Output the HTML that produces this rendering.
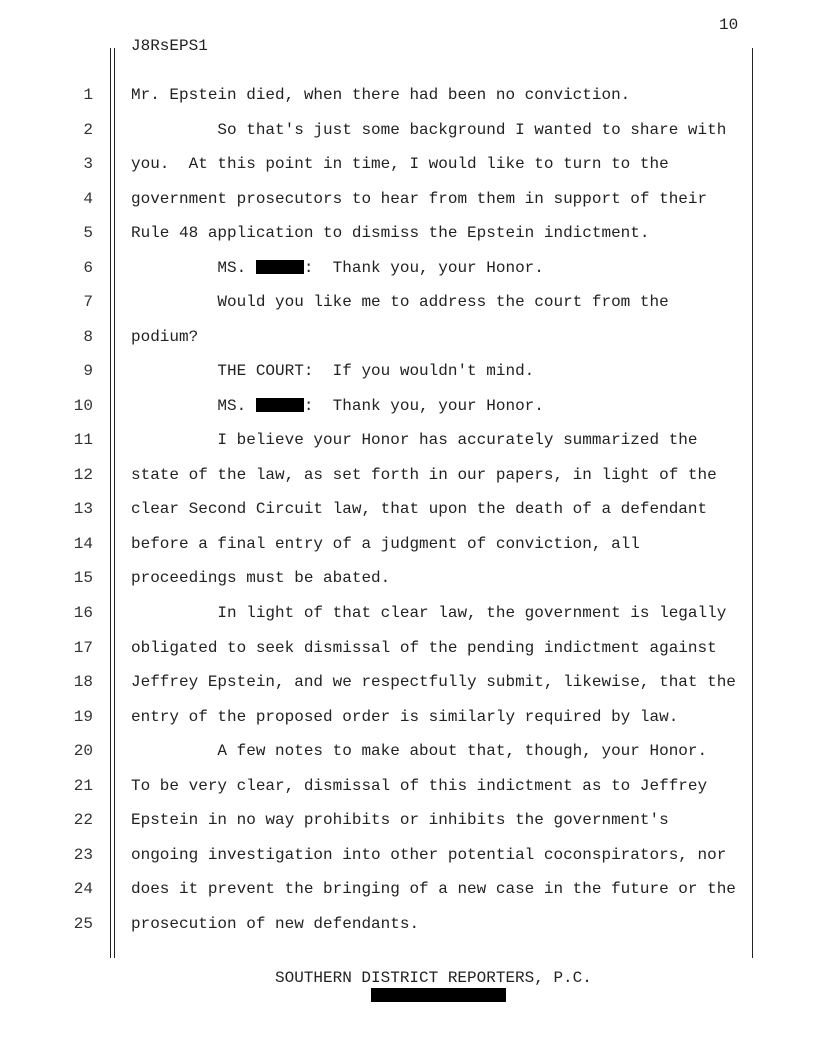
<!DOCTYPE html>
<html><head><meta charset="utf-8"><style>
body{margin:0;background:#fff;}
.p{position:relative;width:816px;height:1056px;overflow:hidden;font-family:"Liberation Mono",monospace;font-size:16px;color:#222;}
.l{position:absolute;white-space:pre;line-height:20px;}
.n{position:absolute;width:30px;text-align:right;left:63px;line-height:20px;color:#333;}
.v{position:absolute;background:#222;width:1px;}
.r{display:inline-block;background:#000;width:48px;height:14px;vertical-align:-2px;}
</style></head><body><div class="p">
<div class="l" style="left:719px;top:15px">10</div>
<div class="l" style="left:131px;top:36px">J8RsEPS1</div>
<div class="v" style="left:110px;top:48px;height:910px"></div>
<div class="v" style="left:114px;top:48px;height:910px"></div>
<div class="v" style="left:752px;top:48px;height:910px"></div>

<div class="n" style="top:85px">1</div><div class="l" style="left:131px;top:85px">Mr. Epstein died, when there had been no conviction.</div>
<div class="n" style="top:120px">2</div><div class="l" style="left:131px;top:120px">         So that's just some background I wanted to share with</div>
<div class="n" style="top:154px">3</div><div class="l" style="left:131px;top:154px">you.  At this point in time, I would like to turn to the</div>
<div class="n" style="top:189px">4</div><div class="l" style="left:131px;top:189px">government prosecutors to hear from them in support of their</div>
<div class="n" style="top:223px">5</div><div class="l" style="left:131px;top:223px">Rule 48 application to dismiss the Epstein indictment.</div>
<div class="n" style="top:258px">6</div><div class="l" style="left:131px;top:258px">         MS. <span class="r"></span>:  Thank you, your Honor.</div>
<div class="n" style="top:292px">7</div><div class="l" style="left:131px;top:292px">         Would you like me to address the court from the</div>
<div class="n" style="top:327px">8</div><div class="l" style="left:131px;top:327px">podium?</div>
<div class="n" style="top:361px">9</div><div class="l" style="left:131px;top:361px">         THE COURT:  If you wouldn't mind.</div>
<div class="n" style="top:396px">10</div><div class="l" style="left:131px;top:396px">         MS. <span class="r"></span>:  Thank you, your Honor.</div>
<div class="n" style="top:430px">11</div><div class="l" style="left:131px;top:430px">         I believe your Honor has accurately summarized the</div>
<div class="n" style="top:465px">12</div><div class="l" style="left:131px;top:465px">state of the law, as set forth in our papers, in light of the</div>
<div class="n" style="top:499px">13</div><div class="l" style="left:131px;top:499px">clear Second Circuit law, that upon the death of a defendant</div>
<div class="n" style="top:534px">14</div><div class="l" style="left:131px;top:534px">before a final entry of a judgment of conviction, all</div>
<div class="n" style="top:568px">15</div><div class="l" style="left:131px;top:568px">proceedings must be abated.</div>
<div class="n" style="top:603px">16</div><div class="l" style="left:131px;top:603px">         In light of that clear law, the government is legally</div>
<div class="n" style="top:638px">17</div><div class="l" style="left:131px;top:638px">obligated to seek dismissal of the pending indictment against</div>
<div class="n" style="top:672px">18</div><div class="l" style="left:131px;top:672px">Jeffrey Epstein, and we respectfully submit, likewise, that the</div>
<div class="n" style="top:707px">19</div><div class="l" style="left:131px;top:707px">entry of the proposed order is similarly required by law.</div>
<div class="n" style="top:741px">20</div><div class="l" style="left:131px;top:741px">         A few notes to make about that, though, your Honor.</div>
<div class="n" style="top:776px">21</div><div class="l" style="left:131px;top:776px">To be very clear, dismissal of this indictment as to Jeffrey</div>
<div class="n" style="top:810px">22</div><div class="l" style="left:131px;top:810px">Epstein in no way prohibits or inhibits the government's</div>
<div class="n" style="top:845px">23</div><div class="l" style="left:131px;top:845px">ongoing investigation into other potential coconspirators, nor</div>
<div class="n" style="top:879px">24</div><div class="l" style="left:131px;top:879px">does it prevent the bringing of a new case in the future or the</div>
<div class="n" style="top:914px">25</div><div class="l" style="left:131px;top:914px">prosecution of new defendants.</div>

<div class="l" style="left:275px;top:968px">SOUTHERN DISTRICT REPORTERS, P.C.</div>
<div style="position:absolute;left:371px;top:988px;width:135px;height:14px;background:#000"></div>
</div></body></html>
